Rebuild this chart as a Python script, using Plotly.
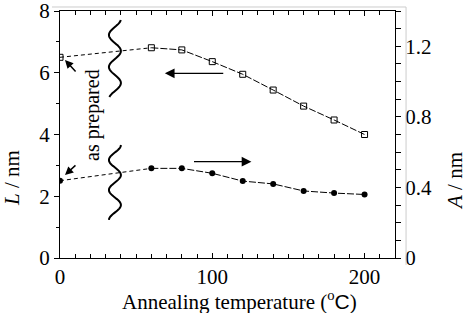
import numpy as np
import plotly.graph_objects as go

# ---- data ----
temps = [0, 60, 80, 100, 120, 140, 160, 180, 200]
L_nm = [6.50, 6.81, 6.74, 6.36, 5.95, 5.44, 4.92, 4.47, 4.00]
A_nm = [0.438, 0.508, 0.508, 0.480, 0.436, 0.420, 0.380, 0.368, 0.360]
x_ticks = [0, 100, 200]
yL_ticks = [0, 2, 4, 6, 8]
yA_ticks = [0, 0.4, 0.8, 1.2]
yA_text = ["0", "0.4", "0.8", "1.2"]

FONT = "Liberation Serif"
FS = 21

fig = go.Figure()

# L series (left axis)
fig.add_trace(go.Scatter(x=temps[:2], y=L_nm[:2], mode="lines",
                         line=dict(color="black", width=1, dash="4px,3px"),
                         showlegend=False, hoverinfo="skip"))
fig.add_trace(go.Scatter(x=temps[1:], y=L_nm[1:], mode="lines",
                         line=dict(color="black", width=1, dash="7px,2px"),
                         showlegend=False, hoverinfo="skip"))
fig.add_trace(go.Scatter(x=temps, y=L_nm, mode="markers",
                         marker=dict(symbol="square-open", size=6, color="black",
                                     line=dict(width=1, color="black")),
                         showlegend=False))
# A series (right axis)
fig.add_trace(go.Scatter(x=temps[:2], y=A_nm[:2], mode="lines", yaxis="y2",
                         line=dict(color="black", width=1, dash="4px,3px"),
                         showlegend=False, hoverinfo="skip"))
fig.add_trace(go.Scatter(x=temps[1:], y=A_nm[1:], mode="lines", yaxis="y2",
                         line=dict(color="black", width=1, dash="7px,2px"),
                         showlegend=False, hoverinfo="skip"))
fig.add_trace(go.Scatter(x=temps, y=A_nm, mode="markers", yaxis="y2",
                         marker=dict(symbol="circle", size=6, color="black"),
                         showlegend=False))

# ---- axis-break wavy decorations (data coords of left axes) ----
def px2x(px):
    return (px - 60) / 1.525

def px2y(py):
    return (258 - py) / 30.875

def wave_path(py0, py1, pmax, period, cx=115, amp=6):
    ys = np.linspace(py0, py1, 80)
    xs = cx + amp * np.cos(2 * np.pi * (ys - pmax) / period)
    pts = [f"{px2x(a):.3f},{px2y(b):.3f}" for a, b in zip(xs, ys)]
    return "M " + " L ".join(pts)

shapes = [
    dict(type="path", xref="x", yref="y", path=wave_path(20, 97, 19, 32),
         line=dict(color="black", width=2)),
    dict(type="path", xref="x", yref="y", path=wave_path(145, 220, 145, 30),
         line=dict(color="black", width=2)),
    # faint outer frame (top & right)
    dict(type="line", xref="paper", yref="paper", x0=-0.024, x1=1.033,
         y0=1.0162, y1=1.0162, line=dict(color="#cccccc", width=1)),
    dict(type="line", xref="paper", yref="paper", x0=1.033, x1=1.033,
         y0=1.0162, y1=-0.028, line=dict(color="#cccccc", width=1)),
]

annotations = [
    # horizontal arrows
    dict(x=px2x(165), y=px2y(73.3), ax=px2x(225), ay=px2y(73.3), xref="x", yref="y",
         axref="x", ayref="y", showarrow=True, arrowhead=2, arrowsize=1.5,
         arrowwidth=1.3, arrowcolor="black", text=""),
    dict(x=px2x(251.7), y=px2y(161.7), ax=px2x(192.7), ay=px2y(161.7), xref="x", yref="y",
         axref="x", ayref="y", showarrow=True, arrowhead=2, arrowsize=1.5,
         arrowwidth=1.3, arrowcolor="black", text=""),
    # as-prepared pointer arrows
    dict(x=px2x(65), y=px2y(60), ax=px2x(77), ay=px2y(73), xref="x", yref="y",
         axref="x", ayref="y", showarrow=True, arrowhead=2, arrowsize=1.1,
         arrowwidth=1.5, arrowcolor="black", text=""),
    dict(x=px2x(65), y=px2y(175), ax=px2x(77), ay=px2y(164), xref="x", yref="y",
         axref="x", ayref="y", showarrow=True, arrowhead=2, arrowsize=1.1,
         arrowwidth=1.5, arrowcolor="black", text=""),
    dict(x=px2x(92), y=px2y(115), xref="x", yref="y", text="as prepared",
         textangle=-90, showarrow=False, xanchor="center", yanchor="middle",
         font=dict(family=FONT, size=20, color="black")),
    # axis titles
    dict(x=0, y=(258 - 178) / 247, xref="paper", yref="paper", xshift=-48,
         xanchor="center", yanchor="middle",
         text="<i>L</i> / nm", textangle=-90, showarrow=False,
         font=dict(family=FONT, size=FS, color="black")),
    dict(x=1, y=(258 - 181) / 247, xref="paper", yref="paper", xshift=60,
         xanchor="center", yanchor="middle",
         text="<i>A</i> / nm", textangle=-90, showarrow=False,
         font=dict(family=FONT, size=FS, color="black")),
    dict(x=(239 - 60) / 335, y=0, xref="paper", yref="paper", yshift=-42,
         xanchor="center", yanchor="middle",
         text="Annealing temperature (<sup>o</sup><span style='font-family:Liberation Sans'>C</span>)",
         showarrow=False, font=dict(family=FONT, size=FS, color="black")),
]

fig.update_layout(
    template="none",
    width=466, height=313,
    margin=dict(l=60, r=71, t=11, b=55),
    paper_bgcolor="white", plot_bgcolor="white",
    font=dict(family=FONT, size=FS, color="black"),
    shapes=shapes, annotations=annotations,
    xaxis=dict(range=[0, 220], tickvals=x_ticks, ticks="inside", ticklen=5,
               tickcolor="black", showline=True, linecolor="black", linewidth=1,
               mirror="ticks", showgrid=False, zeroline=False, ticklabelstandoff=0,
               ticklabeloverflow="allow",
               minor=dict(dtick=10, tick0=0, ticks="inside", ticklen=4, tickcolor="black",
                          showgrid=False),
               tickfont=dict(family=FONT, size=FS, color="black")),
    yaxis=dict(range=[0, 8], tickvals=yL_ticks, ticks="outside", ticklen=5,
               tickcolor="black", showline=True, linecolor="black", linewidth=1,
               showgrid=False, zeroline=False, ticklabeloverflow="allow",
               minor=dict(dtick=1, tick0=0, ticks="outside", ticklen=3, tickcolor="black",
                          showgrid=False),
               tickfont=dict(family=FONT, size=FS, color="black")),
    yaxis2=dict(range=[0, 1.4], tickvals=yA_ticks, ticktext=yA_text, overlaying="y",
                side="right", ticks="outside", ticklen=5, tickcolor="black",
                showline=True, linecolor="black", linewidth=1, showgrid=False,
                zeroline=False, ticklabeloverflow="allow",
                minor=dict(dtick=0.1, tick0=0, ticks="outside", ticklen=5, tickcolor="black",
                           showgrid=False),
                tickfont=dict(family=FONT, size=FS, color="black")),
)

fig.write_html("out.html")
